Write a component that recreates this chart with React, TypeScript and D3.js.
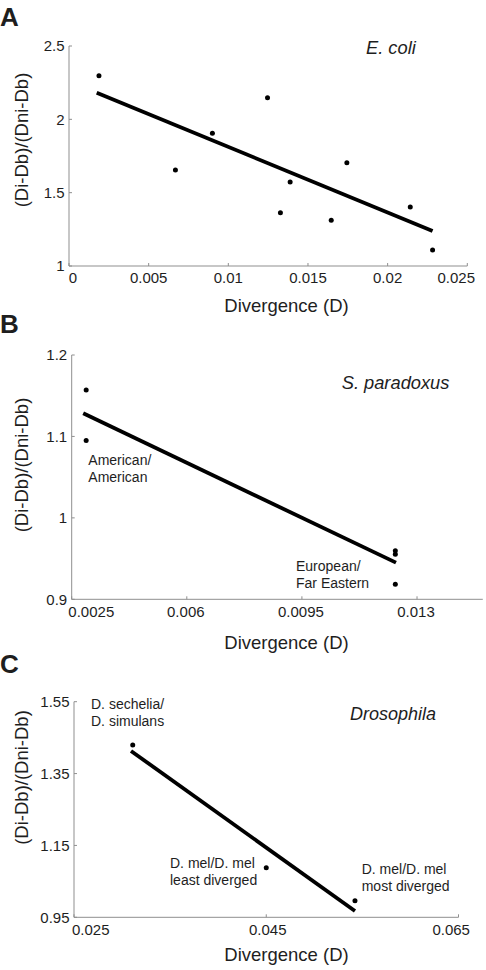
import React from "react";
import * as d3 from "d3";

// ---------- Data ----------
// Panel A: E. coli
const ecoliD = [0.00188, 0.00668, 0.009, 0.01246, 0.01327, 0.01388, 0.01646, 0.01744, 0.02142, 0.02282];
const ecoliRatio = [2.297, 1.654, 1.905, 2.147, 1.363, 1.573, 1.312, 1.704, 1.402, 1.109];
const ecoliFitD = [0.00174, 0.02282];
const ecoliFitRatio = [2.181, 1.239];
const ecoliXTicks = [0, 0.005, 0.01, 0.015, 0.02, 0.025];
const ecoliXTickLabels = ["0", "0.005", "0.01", "0.015", "0.02", "0.025"];
const ecoliYTicks = [1, 1.5, 2, 2.5];
const ecoliYTickLabels = ["1", "1.5", "2", "2.5"];

// Panel B: S. paradoxus
const sparD = [0.00294, 0.00294, 0.01234, 0.01234, 0.01234];
const sparRatio = [1.157, 1.095, 0.9597, 0.9553, 0.9184];
const sparFitD = [0.00285, 0.01236];
const sparFitRatio = [1.1284, 0.945];
const sparXTicks = [0.0025, 0.006, 0.0095, 0.013];
const sparXTickLabels = ["0.0025", "0.006", "0.0095", "0.013"];
const sparYTicks = [0.9, 1.0, 1.1, 1.2];
const sparYTickLabels = ["0.9", "1", "1.1", "1.2"];

// Panel C: Drosophila
const drosD = [0.03111, 0.045, 0.05423];
const drosRatio = [1.4295, 1.088, 0.996];
const drosFitD = [0.03093, 0.05423];
const drosFitRatio = [1.413, 0.9675];
const drosXTicks = [0.025, 0.045, 0.065];
const drosXTickLabels = ["0.025", "0.045", "0.065"];
const drosYTicks = [0.95, 1.15, 1.35, 1.55];
const drosYTickLabels = ["0.95", "1.15", "1.35", "1.55"];

const xTitle = "Divergence (D)";
const yTitle = "(Di-Db)/(Dni-Db)";

// ---------- Layout ----------
const FONT = "'Liberation Sans', Arial, Helvetica, sans-serif";
const TEXT = "#1e1e1e";
const AXIS = "#8f8f8f";

type Note = { lines: string[]; x: number; y: number; italic?: boolean; size: number; lh?: number };

const panels = [
  {
    letter: "A", letterY: 26,
    xDomain: [0, 0.025], xRange: [69, 467.3],
    yDomain: [1, 2.5], yRange: [266, 46],
    xs: ecoliD, ys: ecoliRatio, fx: ecoliFitD, fy: ecoliFitRatio,
    xTicks: ecoliXTicks, xTickLabels: ecoliXTickLabels, xTickDx: [4, 0, 0, 0, 0, -11],
    yTicks: ecoliYTicks, yTickLabels: ecoliYTickLabels,
    xTitleY: 311.7, yTitleCy: 140,
    notes: [{ lines: ["E. coli"], x: 366, y: 54, italic: true, size: 18.3 }] as Note[],
  },
  {
    letter: "B", letterY: 333.3,
    xDomain: [0.0025, 0.015], xRange: [71.7, 482.8],
    yDomain: [0.9, 1.2], yRange: [599.3, 355],
    xs: sparD, ys: sparRatio, fx: sparFitD, fy: sparFitRatio,
    xTicks: sparXTicks, xTickLabels: sparXTickLabels, xTickDx: [19.6, -1, -1, -1],
    yTicks: sparYTicks, yTickLabels: sparYTickLabels,
    xTitleY: 649.3, yTitleCy: 465,
    notes: [
      { lines: ["S. paradoxus"], x: 341.7, y: 389.3, italic: true, size: 18.3 },
      { lines: ["American/", "American"], x: 88.3, y: 465, size: 14, lh: 17.3 },
      { lines: ["European/", "Far Eastern"], x: 296, y: 570.7, size: 14, lh: 17 },
    ] as Note[],
  },
  {
    letter: "C", letterY: 672.5,
    xDomain: [0.025, 0.065], xRange: [74, 458.5],
    yDomain: [0.95, 1.55], yRange: [917.3, 701.7],
    xs: drosD, ys: drosRatio, fx: drosFitD, fy: drosFitRatio,
    xTicks: drosXTicks, xTickLabels: drosXTickLabels, xTickDx: [16.8, 1.5, -7.3],
    yTicks: drosYTicks, yTickLabels: drosYTickLabels,
    xTitleY: 961, yTitleCy: 777.5,
    notes: [
      { lines: ["D. sechelia/", "D. simulans"], x: 91, y: 708.8, size: 14, lh: 17.3 },
      { lines: ["Drosophila"], x: 350, y: 720, italic: true, size: 18 },
      { lines: ["D. mel/D. mel", "least diverged"], x: 170, y: 868.3, size: 14, lh: 17 },
      { lines: ["D. mel/D. mel", "most diverged"], x: 361.7, y: 874, size: 14, lh: 17 },
    ] as Note[],
  },
];

function Panel({ p }: { p: (typeof panels)[number] }) {
  const x = d3.scaleLinear().domain(p.xDomain).range(p.xRange);
  const y = d3.scaleLinear().domain(p.yDomain).range(p.yRange);
  const x0 = p.xRange[0];
  const y0 = p.yRange[0];
  const line = d3
    .line<number>()
    .x((_, i) => x(p.fx[i]))
    .y((_, i) => y(p.fy[i]));
  return (
    <g>
      <text x={0} y={p.letterY} fontFamily={FONT} fontWeight="bold" fontSize={26} fill={TEXT}>
        {p.letter}
      </text>
      {/* axes */}
      <line x1={x0} x2={x0} y1={p.yRange[1]} y2={y0} stroke={AXIS} strokeWidth={1} />
      <line x1={x0} x2={p.xRange[1]} y1={y0} y2={y0} stroke={AXIS} strokeWidth={1} />
      {p.xTicks.map((t, i) => (
        <g key={"xt" + i}>
          <line x1={x(t)} x2={x(t)} y1={y0} y2={y0 - 3} stroke={AXIS} strokeWidth={1} />
          <text
            x={x(t) + p.xTickDx[i]}
            y={y0 + 17.2}
            textAnchor="middle"
            fontFamily={FONT}
            fontSize={15}
            fill={TEXT}
          >
            {p.xTickLabels[i]}
          </text>
        </g>
      ))}
      {p.yTicks.map((t, i) => (
        <g key={"yt" + i}>
          <line x1={x0} x2={x0 + 3} y1={y(t)} y2={y(t)} stroke={AXIS} strokeWidth={1} />
          <text
            x={x0 - 4.5}
            y={y(t) + 5.2}
            textAnchor="end"
            fontFamily={FONT}
            fontSize={15}
            fill={TEXT}
          >
            {p.yTickLabels[i]}
          </text>
        </g>
      ))}
      {/* fit line */}
      <path d={line(p.fx) || ""} fill="none" stroke="#000" strokeWidth={3.8} />
      {/* points */}
      {p.xs.map((v, i) => (
        <circle key={"pt" + i} cx={x(v)} cy={y(p.ys[i])} r={2.5} fill="#000" />
      ))}
      {/* titles */}
      <text x={286.5} y={p.xTitleY} textAnchor="middle" fontFamily={FONT} fontSize={18.5} fill={TEXT}>
        {xTitle}
      </text>
      <text
        transform={`translate(28,${p.yTitleCy}) rotate(-90)`}
        textAnchor="middle"
        fontFamily={FONT}
        fontSize={18.5}
        fill={TEXT}
      >
        {yTitle}
      </text>
      {p.notes.map((n, i) =>
        n.lines.map((ln, j) => (
          <text
            key={"n" + i + "-" + j}
            x={n.x}
            y={n.y + j * (n.lh || 0)}
            fontFamily={FONT}
            fontSize={n.size}
            fontStyle={n.italic ? "italic" : "normal"}
            fill={TEXT}
          >
            {ln}
          </text>
        ))
      )}
    </g>
  );
}

export default function App() {
  return (
    <svg
      width={486}
      height={970}
      viewBox="0 0 486 970"
      style={{ position: "absolute", left: 0, top: 0, background: "#fff" }}
    >
      <rect width={486} height={970} fill="#fff" />
      {panels.map((p) => (
        <Panel key={p.letter} p={p} />
      ))}
    </svg>
  );
}
